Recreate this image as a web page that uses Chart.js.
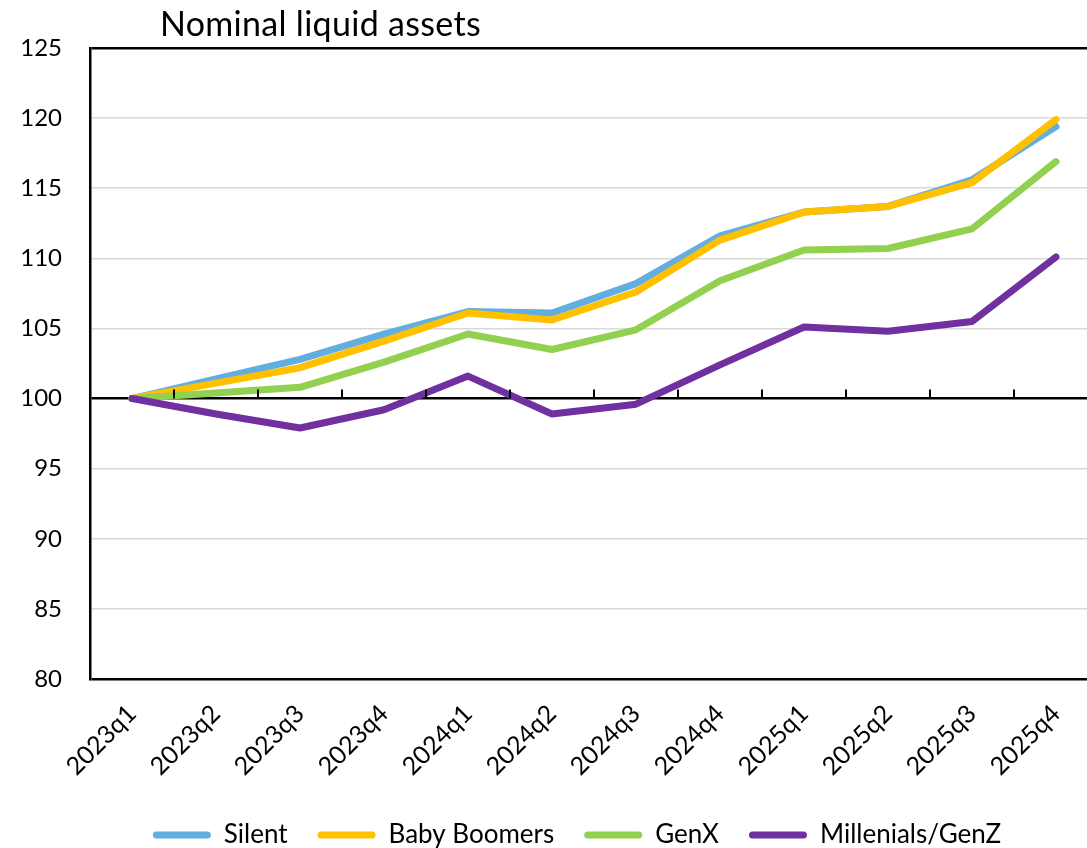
<!DOCTYPE html>
<html>
<head>
<meta charset="utf-8">
<script src="https://cdn.jsdelivr.net/npm/chart.js@4.4.1/dist/chart.umd.min.js"></script>
<style>
  html, body { margin: 0; padding: 0; background: #fff; overflow: hidden; }
  #wrap { position: relative; width: 1140px; height: 848px; }
  #title { position: absolute; left: 160px; top: 2px; font: 34px Lato, sans-serif; color: #000; letter-spacing: 0.3px; }
</style>
</head>
<body>
<div id="wrap">
  <canvas id="chart" width="1140" height="848"></canvas>
  <div id="title">Nominal liquid assets</div>
</div>
<script>
// Data
const quarters = ['2023q1', '2023q2', '2023q3', '2023q4', '2024q1', '2024q2', '2024q3', '2024q4', '2025q1', '2025q2', '2025q3', '2025q4'];
const silent = [100, 101.4, 102.8, 104.6, 106.2, 106.1, 108.2, 111.6, 113.3, 113.7, 115.6, 119.4];
const boomers = [100, 101.1, 102.2, 104.1, 106.1, 105.6, 107.6, 111.3, 113.3, 113.7, 115.4, 119.9];
const genX = [100, 100.4, 100.8, 102.6, 104.6, 103.5, 104.9, 108.4, 110.6, 110.7, 112.1, 116.9];
const millenials = [100, 98.9, 97.9, 99.2, 101.6, 98.9, 99.6, 102.4, 105.1, 104.8, 105.5, 110.1];
const yTicks = [80, 85, 90, 95, 100, 105, 110, 115, 120, 125];

const FONT = 'Lato';

// small tick marks standing up from the 100 line, between categories
const baseTicks = {
  id: 'baseTicks',
  afterDatasetsDraw(chart) {
    const { ctx, scales: { x, y } } = chart;
    const y0 = y.getPixelForValue(100);
    ctx.save();
    ctx.strokeStyle = '#000';
    ctx.lineWidth = 2;
    ctx.beginPath();
    for (let i = 1; i <= quarters.length; i++) {
      const px = x.getPixelForValue(i - 0.5);
      ctx.moveTo(px, y0);
      ctx.lineTo(px, y0 - 9);
    }
    ctx.stroke();
    ctx.restore();
  }
};

// legend in the original is centred on the full (wider) figure, nudge it right
const legendNudge = {
  id: 'legendNudge',
  afterLayout(chart) {
    if (!chart.legend) return;
    chart.legend.left += 28;
    chart.legend.right += 28;
  }
};

function series(label, data, color, order) {
  return {
    label, data, order,
    borderColor: color,
    backgroundColor: color,
    borderWidth: 7,
    pointRadius: 0,
    tension: 0,
    borderCapStyle: 'round',
    borderJoinStyle: 'round'
  };
}

new Chart(document.getElementById('chart'), {
  type: 'line',
  data: {
    labels: quarters,
    datasets: [
      series('Silent', silent, '#63AEE0', 3),
      series('Baby Boomers', boomers, '#FFC000', 2),
      series('GenX', genX, '#92D050', 1),
      series('Millenials/GenZ', millenials, '#7030A0', 0)
    ]
  },
  options: {
    responsive: false,
    animation: false,
    layout: { padding: { top: 48, right: 42, left: 0, bottom: -10 } },
    plugins: {
      title: { display: false },
      tooltip: { enabled: false },
      legend: {
        position: 'bottom',
        labels: {
          font: { family: FONT, size: 26 },
          color: '#000',
          boxWidth: 58,
          boxHeight: 7,
          useBorderRadius: true,
          borderRadius: 3.5,
          padding: 30,
          generateLabels(chart) {
            return chart.data.datasets.map((ds, i) => ({
              text: ds.label,
              fillStyle: ds.borderColor,
              strokeStyle: ds.borderColor,
              lineWidth: 0,
              borderRadius: 3.5,
              datasetIndex: i,
              hidden: false
            }));
          }
        }
      }
    },
    scales: {
      x: {
        offset: true,
        grid: { display: false, drawTicks: false },
        border: { display: false },
        ticks: {
          font: { family: FONT, size: 25 },
          color: '#000',
          maxRotation: 45,
          minRotation: 45,
          padding: 20,
          autoSkip: false
        },
        afterFit(scale) { scale.height = 113; }
      },
      y: {
        min: 80,
        max: 125,
        afterBuildTicks(scale) { scale.ticks = yTicks.map(v => ({ value: v })); },
        grid: {
          drawTicks: false,
          lineWidth: ctx => (ctx.tick && [80, 100, 125].includes(ctx.tick.value)) ? 2.5 : 1.5,
          color: ctx => (ctx.tick && [80, 100, 125].includes(ctx.tick.value)) ? '#000' : '#D9D9D9'
        },
        border: { display: true, color: '#000', width: 2.5 },
        ticks: {
          font: { family: FONT, size: 24 },
          color: '#000',
          padding: 28
        },
        afterFit(scale) { scale.width = 90; }
      }
    }
  },
  plugins: [baseTicks, legendNudge]
});
</script>
</body>
</html>
